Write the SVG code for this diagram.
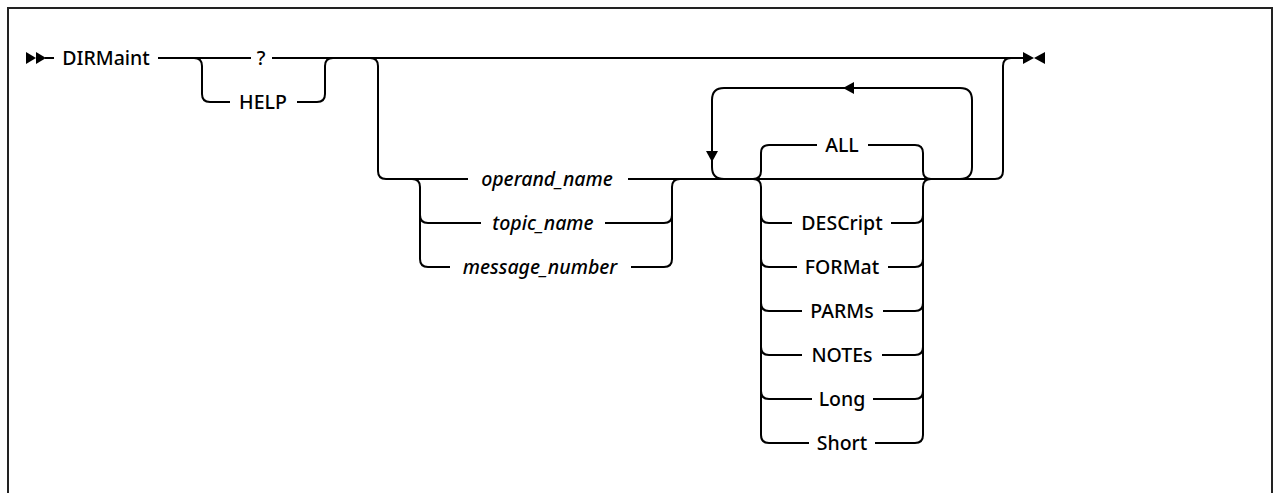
<svg xmlns="http://www.w3.org/2000/svg" width="1274" height="493" viewBox="0 0 1274 493">
<style>
.ln{fill:none;stroke:#000;stroke-width:2}
.t{font-family:"Noto Sans","Liberation Sans",sans-serif;font-size:19.5px;font-weight:500;fill:#000;text-anchor:middle}
.i{font-style:italic}
.mk{fill:#000;stroke:none}
</style>
<rect x="0" y="0" width="1274" height="493" fill="#fff"/>
<path d="M8 493 V8 H1272 V493" fill="none" stroke="#222" stroke-width="2"/>
<g id="connectors">
  <polygon class="mk" points="26,52 36,58 26,64"/>
  <polygon class="mk" points="36,52 46,58 36,64"/>
  <path class="ln" d="M45 58 H54"/>
  <path class="ln" d="M158 58 H251 M272 58 H1024"/>
  <polygon class="mk" points="1023,52 1034,58 1023,64"/>
  <polygon class="mk" points="1045,52 1034,58 1045,64"/>
  <path class="ln" d="M194 58 Q202 58 202 66 V94 Q202 102 210 102 H230 M297 102 H317 Q325 102 325 94 V66 Q325 58 333 58"/>
  <path class="ln" d="M370 58 Q378 58 378 66 V171 Q378 179 386 179 H468 M628 179 H995 Q1003 179 1003 171 V66 Q1003 58 1011 58"/>
  <path class="ln" d="M412 179 Q420 179 420 187 V259 Q420 267 428 267 H450 M631 267 H664 Q672 267 672 259 V187 Q672 179 680 179"/>
  <path class="ln" d="M420 215 Q420 223 428 223 H481 M605 223 H664 Q672 223 672 215"/>
  <path class="ln" d="M960 179 Q972 179 972 167 V100 Q972 88 960 88 H724 Q712 88 712 100 V167 Q712 179 724 179"/>
  <polygon class="mk" points="843,88 854,82 854,94"/>
  <polygon class="mk" points="712,162 706,151 718,151"/>
  <path class="ln" d="M753 179 Q761 179 761 171 V153 Q761 145 769 145 H817 M868 145 H915 Q923 145 923 153 V171 Q923 179 931 179"/>
  <path class="ln" d="M753 179 Q761 179 761 187 V435 Q761 443 769 443 H809 M875 443 H915 Q923 443 923 435 V187 Q923 179 931 179"/>
  <path class="ln" d="M761 215 Q761 223 769 223 H792 M891 223 H915 Q923 223 923 215"/>
  <path class="ln" d="M761 259 Q761 267 769 267 H797 M888 267 H915 Q923 267 923 259"/>
  <path class="ln" d="M761 303 Q761 311 769 311 H802 M883 311 H915 Q923 311 923 303"/>
  <path class="ln" d="M761 347 Q761 355 769 355 H802 M882 355 H915 Q923 355 923 347"/>
  <path class="ln" d="M761 391 Q761 399 769 399 H812 M873 399 H915 Q923 399 923 391"/>
</g>
<g id="n-dirmaint"><text class="t" x="106" y="65">DIRMaint</text></g>
<g id="n-q"><text class="t" x="261" y="65">?</text></g>
<g id="n-help"><text class="t" x="263" y="109">HELP</text></g>
<g id="n-operand"><text class="t i" x="547" y="186">operand_name</text></g>
<g id="n-topic"><text class="t i" x="543" y="230">topic_name</text></g>
<g id="n-message"><text class="t i" x="540" y="274">message_number</text></g>
<g id="n-all"><text class="t" x="842" y="152">ALL</text></g>
<g id="n-descript"><text class="t" x="842" y="230">DESCript</text></g>
<g id="n-format"><text class="t" x="842" y="274">FORMat</text></g>
<g id="n-parms"><text class="t" x="842" y="318">PARMs</text></g>
<g id="n-notes"><text class="t" x="842" y="362">NOTEs</text></g>
<g id="n-long"><text class="t" x="842" y="406">Long</text></g>
<g id="n-short"><text class="t" x="842" y="450">Short</text></g>
</svg>
